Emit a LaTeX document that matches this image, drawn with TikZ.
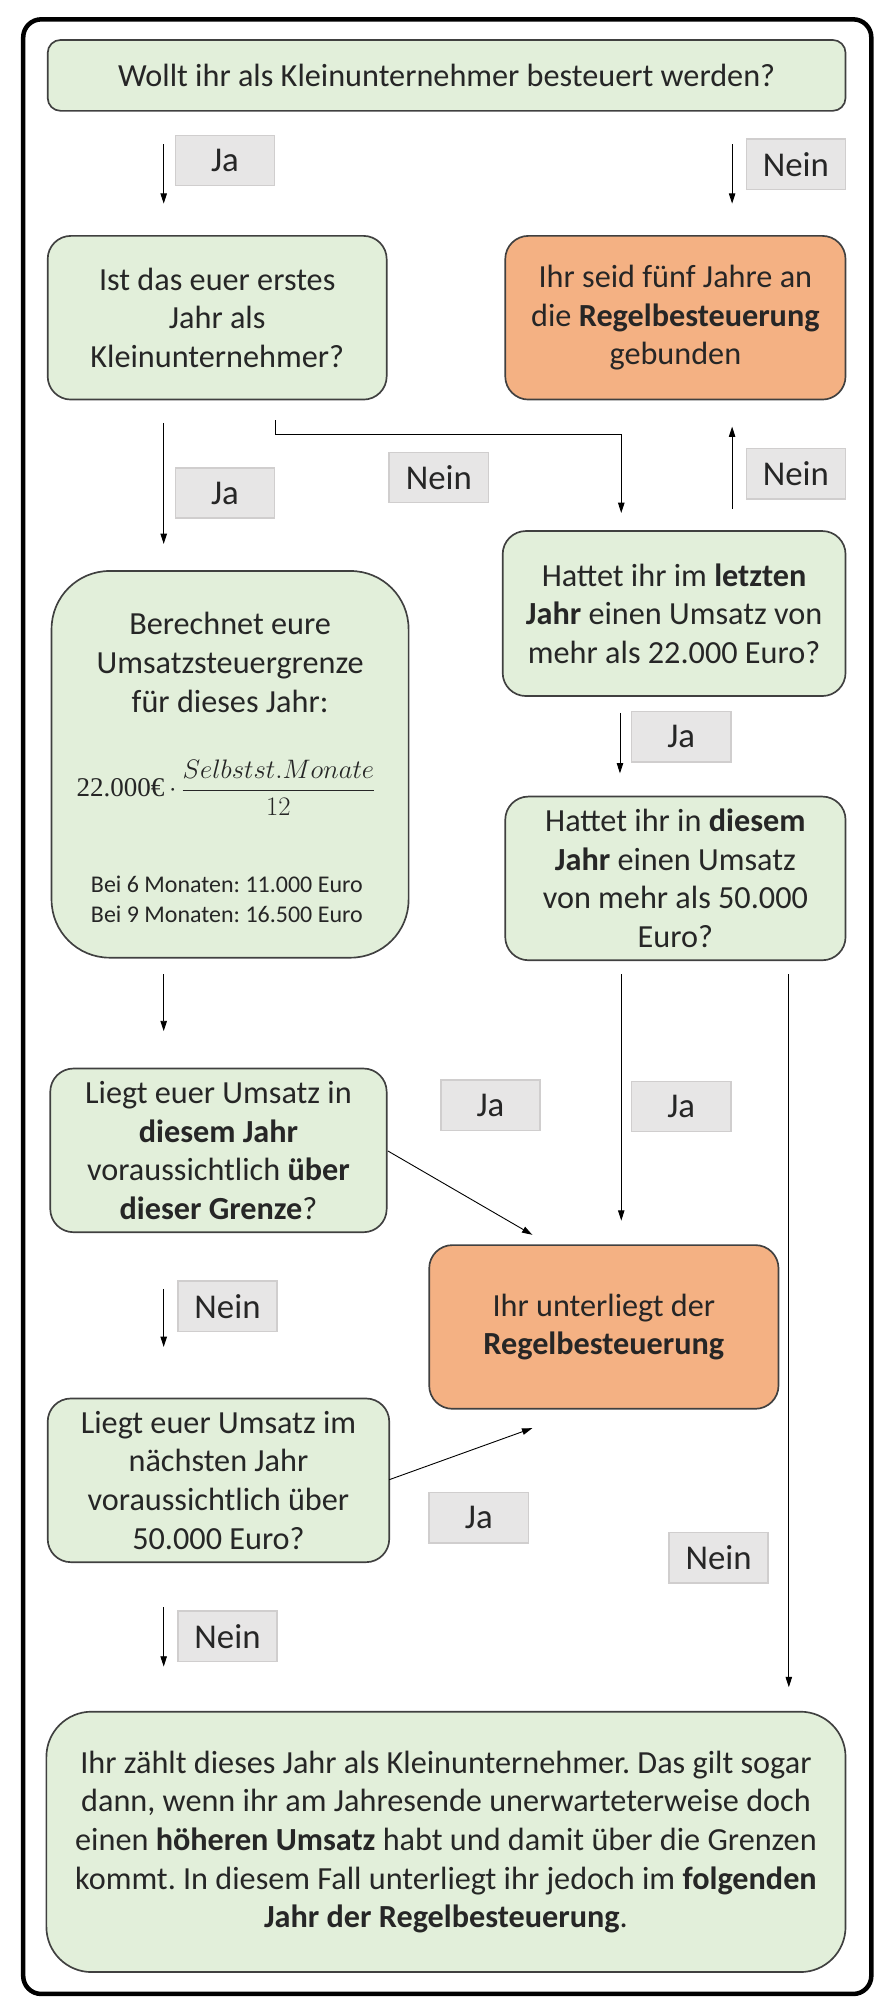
\documentclass[tikz,border=0pt]{standalone}
\usepackage{fontspec}
\setmainfont{Carlito}
\newfontfamily\formelfont{Liberation Serif}
\usetikzlibrary{arrows.meta}
\definecolor{gruen}{HTML}{E2EFDA}
\definecolor{lachs}{HTML}{F4B183}
\definecolor{randgrau}{HTML}{404040}
\definecolor{labelgrau}{HTML}{E7E6E6}
\definecolor{labelrand}{HTML}{D0CECE}
\definecolor{schrift}{HTML}{262626}
\frenchspacing
\begin{document}
\begin{tikzpicture}[x=1pt, y=-1pt,
    frage/.style={draw=randgrau, fill=gruen, line width=1.3pt, rounded corners=18pt, inner sep=0pt, align=center, text=schrift, font=\fontsize{25}{30}\selectfont},
    ergebnis/.style={frage, fill=lachs},
    antwort/.style={draw=labelrand, fill=labelgrau, line width=1.2pt, minimum width=77pt, minimum height=39pt, inner sep=0pt, text=schrift, font=\fontsize{27}{30}\selectfont},
    pfeil/.style={-{Triangle[length=8pt,width=5pt]}, line width=0.7pt}]
    \useasboundingbox (0,0) rectangle (692,1561);
    \node[draw, line width=3.5pt, rounded corners=14pt, minimum width=658pt, minimum height=1532pt] (rahmen) at (347,781) {};
    % Fragen
    \node[frage, rounded corners=10pt, minimum width=619pt, minimum height=55pt] (start) at (346.5,58.5) {Wollt ihr als Kleinunternehmer besteuert werden?};
    \node[frage, minimum width=263pt, minimum height=127pt] (erstes) at (168.5,246.5) {Ist das euer erstes\\Jahr als\\Kleinunternehmer?};
    \node[ergebnis, minimum width=264pt, minimum height=127pt] (fuenf) at (524,246.5) {Ihr seid fünf Jahre an\\die \textbf{Regelbesteuerung}\\gebunden};
    \node[frage, rounded corners=45pt, minimum width=277pt, minimum height=300pt] (berechnet) at (178.5,593) {};
    \node[align=center, text=schrift, font=\fontsize{25}{30}\selectfont] (kopf) at (178.5,514) {Berechnet eure\\Umsatzsteuergrenze\\für dieses Jahr:};
    \node[text=schrift, inner sep=0pt] (formel) at (175.5,611) {\fontsize{21}{24}\selectfont\formelfont 22.000€\,$\cdot$\,$\displaystyle\frac{Selbstst.Monate}{12}$};
    \node[align=center, text=schrift, font=\fontsize{18.6}{23}\selectfont] (beispiel) at (176,697.5) {Bei 6 Monaten: 11.000 Euro\\Bei 9 Monaten: 16.500 Euro};
    \node[frage, minimum width=266pt, minimum height=128pt] (letztes) at (523,476) {Hattet ihr im \textbf{letzten}\\\textbf{Jahr} einen Umsatz von\\mehr als 22.000 Euro?};
    \node[frage, minimum width=264pt, minimum height=127pt] (dieses) at (524,681.5) {Hattet ihr in \textbf{diesem}\\\textbf{Jahr} einen Umsatz\\von mehr als 50.000\\Euro?};
    \node[frage, minimum width=261pt, minimum height=127pt] (grenze) at (169.5,892.5) {Liegt euer Umsatz in\\\textbf{diesem Jahr}\\voraussichtlich \textbf{über}\\\textbf{dieser Grenze}?};
    \node[ergebnis, minimum width=271pt, minimum height=127pt] (regel) at (468.5,1029.5) {Ihr unterliegt der\\\textbf{Regelbesteuerung}};
    \node[frage, minimum width=265pt, minimum height=127pt] (naechstes) at (169.5,1148.5) {Liegt euer Umsatz im\\nächsten Jahr\\voraussichtlich über\\50.000 Euro?};
    \node[frage, rounded corners=35pt, minimum width=620pt, minimum height=202pt] (klein) at (346,1429) {Ihr zählt dieses Jahr als Kleinunternehmer. Das gilt sogar\\dann, wenn ihr am Jahresende unerwarteterweise doch\\einen \textbf{höheren Umsatz} habt und damit über die Grenzen\\kommt. In diesem Fall unterliegt ihr jedoch im \textbf{folgenden}\\\textbf{Jahr der Regelbesteuerung}.};
    % Antworten
    \node[antwort] (ja1) at (174.5,124.5) {Ja};
    \node[antwort] (nein1) at (617.5,127.5) {Nein};
    \node[antwort] (ja2) at (174.5,382.5) {Ja};
    \node[antwort] (nein2) at (340.5,370.5) {Nein};
    \node[antwort] (nein3) at (617.5,367.5) {Nein};
    \node[antwort] (ja3) at (528.5,571.5) {Ja};
    \node[antwort] (ja4) at (380.5,857.5) {Ja};
    \node[antwort] (ja5) at (528.5,858.5) {Ja};
    \node[antwort] (nein4) at (176.5,1013.5) {Nein};
    \node[antwort] (ja6) at (371.5,1177.5) {Ja};
    \node[antwort] (nein5) at (557.5,1208.5) {Nein};
    \node[antwort] (nein6) at (176.5,1269.5) {Nein};
    % Pfeile
    \coordinate (s1) at (127,112);  \coordinate (e1) at (127,158);
    \coordinate (s2) at (568,112);  \coordinate (e2) at (568,158);
    \coordinate (s3) at (127,328);  \coordinate (e3) at (127,422);
    \coordinate (s4) at (568,395);  \coordinate (e4) at (568,331);
    \coordinate (s5) at (481,553);  \coordinate (e5) at (481,600);
    \coordinate (s6) at (127,756);  \coordinate (e6) at (127,800);
    \coordinate (s7) at (482,756);  \coordinate (e7) at (482,947);
    \coordinate (s8) at (612,756);  \coordinate (e8) at (612,1309);
    \coordinate (s9) at (301,893);  \coordinate (e9) at (413,958);
    \coordinate (s10) at (127,1000); \coordinate (e10) at (127,1045);
    \coordinate (s11) at (302,1148); \coordinate (e11) at (413,1108);
    \coordinate (s12) at (127,1247); \coordinate (e12) at (127,1293);
    \coordinate (s13) at (214,326); \coordinate (e13) at (482,398);
    \foreach \i in {1,...,12}
        \draw[pfeil] (s\i) -- (e\i);
    \draw[pfeil] (s13) -- (214,337) -| (e13);
\end{tikzpicture}
\end{document}
